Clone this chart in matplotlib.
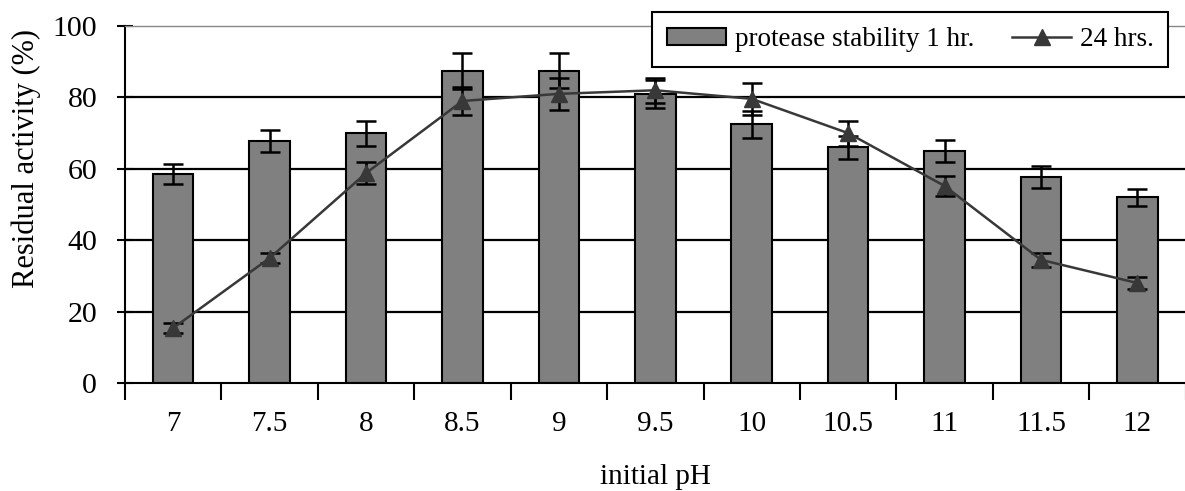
import numpy as np
import matplotlib.pyplot as plt
from matplotlib.patches import Patch
from matplotlib.lines import Line2D

# pH values and measured residual activity (%)
ph_labels = ["7", "7.5", "8", "8.5", "9", "9.5", "10", "10.5", "11", "11.5", "12"]
stab_1hr = [58.5, 67.8, 70.0, 87.4, 87.5, 81.0, 72.5, 66.0, 65.0, 57.7, 52.0]
stab_1hr_err = [2.8, 3.2, 3.5, 5.0, 5.0, 4.0, 3.8, 3.3, 3.2, 3.0, 2.4]
stab_24hr = [15.4, 35.0, 58.8, 79.0, 81.0, 82.0, 79.6, 70.0, 55.2, 34.5, 28.0]
stab_24hr_err = [1.5, 1.5, 3.0, 4.0, 4.5, 3.5, 4.5, 3.5, 2.8, 2.0, 1.8]

plt.rcParams['font.family'] = ['Liberation Serif', 'DejaVu Serif']

x = np.arange(len(ph_labels))
bar_color = '#808080'
line_color = '#383838'

fig = plt.figure(figsize=(11.85, 4.91), dpi=100)
ax = fig.add_axes([0.1055, 0.22, 0.895, 0.727])

ax.bar(x, stab_1hr, width=0.42, color=bar_color, edgecolor='black', linewidth=1.5, zorder=2)
ax.errorbar(x, stab_1hr, yerr=stab_1hr_err, fmt='none', ecolor='black',
            elinewidth=1.8, capsize=7, capthick=1.8, zorder=3)
ax.errorbar(x, stab_24hr, yerr=stab_24hr_err, color=line_color, marker='^',
            markersize=11, linewidth=1.8, ecolor='black', elinewidth=1.8,
            capsize=7, capthick=1.8, zorder=4)

ax.set_xlim(-0.5, len(x) - 0.5)
ax.set_ylim(0, 100)
ax.set_yticks([0, 20, 40, 60, 80, 100])
for yv in [20, 40, 60, 80]:
    ax.axhline(yv, color='black', linewidth=1.6, zorder=1)

ax.set_xticks(x)
ax.set_xticklabels(ph_labels)
ax.set_xticks(np.arange(-0.5, len(x), 1.0), minor=True)
ax.tick_params(axis='x', which='major', length=0, pad=20, labelsize=21)
ax.tick_params(axis='x', which='minor', length=12, width=1.5, direction='out')
ax.tick_params(axis='y', length=12, width=1.5, direction='inout', labelsize=21.5, pad=14)

ax.spines['right'].set_visible(False)
ax.spines['top'].set_color('#888888')
ax.spines['top'].set_linewidth(1)
ax.spines['left'].set_linewidth(1.5)
ax.spines['bottom'].set_linewidth(1.5)

ax.set_xlabel('initial pH', fontsize=21)
ax.xaxis.set_label_coords(0.5, -0.226)
ax.set_ylabel('Residual activity (%)', fontsize=22)
ax.yaxis.set_label_coords(-0.079, 0.63)

handles = [Patch(facecolor=bar_color, edgecolor='black', linewidth=1.5),
           Line2D([], [], color=line_color, marker='^', markersize=11, linewidth=1.8)]
leg = fig.legend(handles, ['protease stability 1 hr.', '24 hrs.'],
                 loc='upper left', bbox_to_anchor=(652 / 1185, 1 - 12 / 491), ncol=2,
                 fontsize=19.5, frameon=True, fancybox=False, edgecolor='black',
                 handlelength=2.2, handleheight=0.62, handletextpad=0.3,
                 columnspacing=1.4, borderpad=0.55, borderaxespad=0)
leg.get_frame().set_linewidth(1.5)
leg.get_frame().set_alpha(1)

fig.savefig('out.png', dpi=100)
